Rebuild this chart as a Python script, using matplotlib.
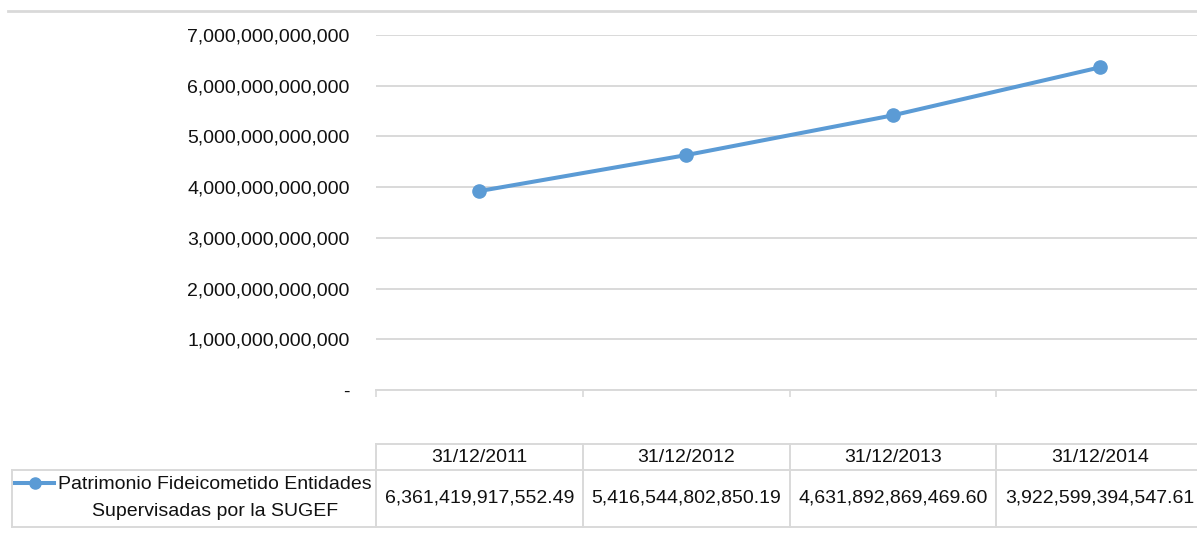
import numpy as np
import matplotlib
matplotlib.use('Agg')
import matplotlib.pyplot as plt
from matplotlib.lines import Line2D
from matplotlib.ticker import FuncFormatter, FixedLocator
from matplotlib.transforms import blended_transform_factory

plt.rcParams['font.family'] = ['Liberation Sans', 'DejaVu Sans']

# data (the table lists values per date; the line in the original is drawn in reverse order)
dates = ['31/12/2011', '31/12/2012', '31/12/2013', '31/12/2014']
table_values = [6361419917552.49, 5416544802850.19, 4631892869469.60, 3922599394547.61]
line_values = table_values[::-1]
series_name = 'Patrimonio Fideicometido Entidades\nSupervisadas por la SUGEF'
y_ticks = [0, 1e12, 2e12, 3e12, 4e12, 5e12, 6e12, 7e12]

W, H = 1197, 545
blue = '#5B9BD5'
grid = '#d9d9d9'
txt = '#111111'
fs = 14

fig = plt.figure(figsize=(W / 100, H / 100), dpi=100)

def fy(py):
    return 1 - py / H

def fx(px):
    return px / W

col_w = 206.8
left_px = 376
ax = fig.add_axes([fx(left_px), fy(390), fx(W - left_px), fy(35) - fy(390)])
x = np.arange(len(dates))
ax.plot(x, line_values, color=blue, lw=2.9, marker='o', markersize=9.5, solid_capstyle='round', zorder=3)

ax.set_xlim(-0.5, -0.5 + (W - left_px) / col_w)
ax.set_ylim(0, 7e12)
ax.yaxis.set_major_locator(FixedLocator(y_ticks))
ax.yaxis.set_major_formatter(FuncFormatter(lambda v, p: '-' if v == 0 else '{:,.0f}'.format(v)))
ax.tick_params(axis='y', length=0, pad=19, labelsize=fs, labelcolor=txt)
ax.grid(axis='y', color=grid, lw=1.4)
ax.set_axisbelow(True)
for s in ['top', 'right', 'left']:
    ax.spines[s].set_visible(False)
ax.spines['bottom'].set_color(grid)
ax.spines['bottom'].set_linewidth(1.4)
ax.xaxis.set_major_locator(FixedLocator(x - 0.5))
ax.tick_params(axis='x', length=5, width=1.2, color=grid, labelbottom=False)

# top border line of chart area
fig.add_artist(Line2D([fx(8), 1], [fy(11), fy(11)], color=grid, lw=2, transform=fig.transFigure))

# data table below the plot
tr = blended_transform_factory(ax.transData, fig.transFigure)
top, mid, bot = fy(444), fy(470), fy(527)
xr = ax.get_xlim()[1]
fig.add_artist(Line2D([-0.5, xr], [top, top], color=grid, lw=1.4, transform=tr))
for yy in (mid, bot):
    fig.add_artist(Line2D([fx(12), 1], [yy, yy], color=grid, lw=1.4, transform=fig.transFigure))
fig.add_artist(Line2D([fx(12), fx(12)], [mid, bot], color=grid, lw=1.4, transform=fig.transFigure))
for i in range(len(dates)):
    fig.add_artist(Line2D([i - 0.5, i - 0.5], [top, bot], color=grid, lw=1.4, transform=tr))
    fig.text(i, fy(457), dates[i], transform=tr, ha='center', va='center', fontsize=fs, color=txt)
    fig.text(i, fy(498), '{:,.2f}'.format(table_values[i]), transform=tr, ha='center', va='center',
             fontsize=fs, color=txt)

# legend key in the table
fig.add_artist(Line2D([fx(15), fx(54)], [fy(483), fy(483)], color=blue, lw=2.9, transform=fig.transFigure))
fig.add_artist(Line2D([fx(35)], [fy(483)], color=blue, marker='o', markersize=8, transform=fig.transFigure))
fig.text(fx(215), fy(498), series_name, ha='center', va='center', multialignment='center',
         fontsize=fs, color=txt, linespacing=1.7)

fig.savefig('out.png', dpi=100)
